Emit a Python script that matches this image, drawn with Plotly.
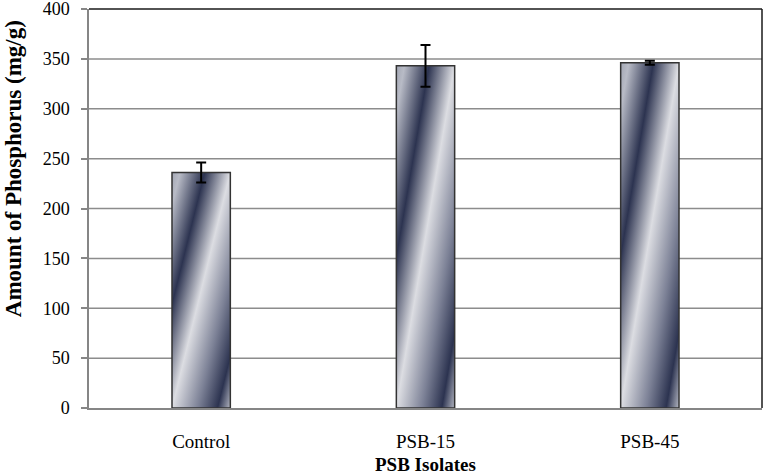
import base64
import plotly.graph_objects as go

# ---- data ----
categories = ["Control", "PSB-15", "PSB-45"]
phosphorus = [236, 343, 346]
errors = [10, 21, 2]
y_ticks = [0, 50, 100, 150, 200, 250, 300, 350, 400]

BAR_WIDTH = 0.26
FONT = "Liberation Serif"

# diagonal gradient (as in the original spreadsheet-style fill)
svg = (
    '<svg xmlns="http://www.w3.org/2000/svg" width="100" height="100" '
    'viewBox="0 0 100 100" preserveAspectRatio="none">'
    '<defs><linearGradient id="g" x1="0" y1="0" x2="1" y2="1">'
    '<stop offset="0" stop-color="#a3a7b4"/>'
    '<stop offset="0.07" stop-color="#b8bbc6"/>'
    '<stop offset="0.28" stop-color="#2c3350"/>'
    '<stop offset="0.50" stop-color="#dcdde2"/>'
    '<stop offset="0.72" stop-color="#7c8196"/>'
    '<stop offset="0.89" stop-color="#2c3350"/>'
    '<stop offset="1" stop-color="#b4b7c2"/>'
    '</linearGradient></defs>'
    '<rect x="0" y="0" width="100" height="100" fill="url(#g)"/></svg>'
)
src = "data:image/svg+xml;base64," + base64.b64encode(svg.encode()).decode()

fig = go.Figure()
fig.add_trace(go.Bar(
    x=categories,
    y=phosphorus,
    width=BAR_WIDTH,
    marker=dict(color="rgba(0,0,0,0)", line=dict(color="#333333", width=1.5)),
    error_y=dict(type="data", array=errors, visible=True,
                 color="#000000", thickness=2, width=5),
    hoverinfo="x+y",
))

images = []
for c, v in zip(categories, phosphorus):
    images.append(dict(
        source=src, xref="x", yref="y", x=c, y=0,
        sizex=BAR_WIDTH, sizey=v, xanchor="center", yanchor="bottom",
        sizing="stretch", layer="below",
    ))

shapes = []
for t in y_ticks[1:-1]:
    shapes.append(dict(type="line", xref="paper", yref="y", x0=0, x1=1,
                       y0=t, y1=t, layer="below",
                       line=dict(color="#8c8c8c", width=1.5)))
# frame: top and right edges
shapes.append(dict(type="line", xref="paper", yref="paper", x0=0, x1=1,
                   y0=1, y1=1, layer="above", line=dict(color="#1a1a1a", width=1.5)))
shapes.append(dict(type="line", xref="paper", yref="paper", x0=1, x1=1,
                   y0=0, y1=1, layer="above", line=dict(color="#1a1a1a", width=1.5)))

fig.update_layout(
    width=765, height=476,
    margin=dict(l=89, r=3, t=9, b=68, autoexpand=False),
    paper_bgcolor="white", plot_bgcolor="white",
    showlegend=False,
    font=dict(family=FONT, color="#000000", size=18),
    images=images,
    shapes=shapes,
    annotations=[
        dict(text="<b>Amount of Phosphorus (mg/g)</b>", xref="paper", yref="paper",
             x=-0.112, y=0.6, textangle=-90, showarrow=False,
             xanchor="center", yanchor="middle",
             font=dict(family=FONT, size=23, color="#000000")),
        dict(text="<b>PSB Isolates</b>", xref="paper", yref="paper",
             x=0.5, y=-0.141, showarrow=False, xanchor="center", yanchor="middle",
             font=dict(family=FONT, size=19, color="#000000")),
    ],
)
fig.update_xaxes(
    showgrid=False, showline=True, linecolor="#868686", linewidth=1.5,
    ticks="", tickfont=dict(family=FONT, size=19), ticklabelstandoff=15,
    range=[-0.5, 2.5], automargin=False,
)
fig.update_yaxes(
    range=[0, 400], tickvals=y_ticks, showgrid=False, zeroline=False,
    showline=True, linecolor="#868686", linewidth=1.5,
    ticks="outside", ticklen=6, tickwidth=1.5, tickcolor="#868686",
    tickfont=dict(family=FONT, size=18), ticklabelstandoff=8,
    ticklabeloverflow="allow", automargin=False,
)

fig.write_html(
    "out.html",
    config={"displayModeBar": False},
    post_script="document.body.style.margin='0';document.body.style.overflow='hidden';",
)
